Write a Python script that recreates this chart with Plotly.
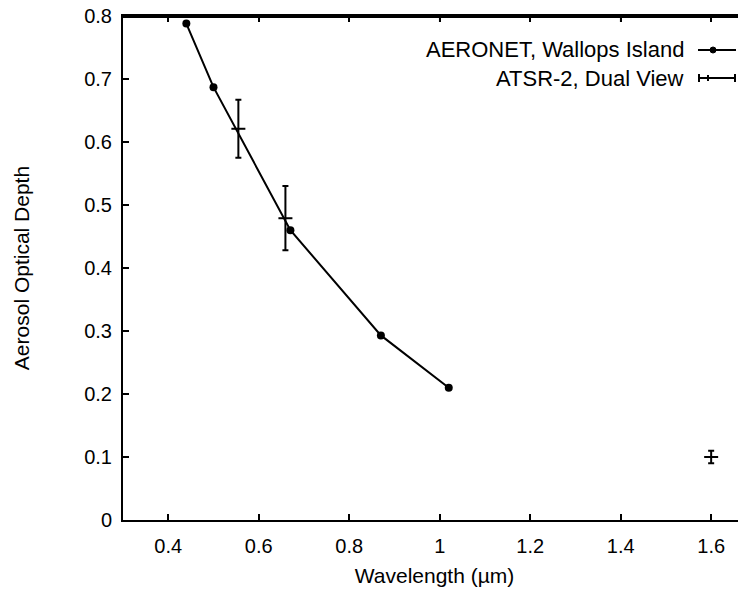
import plotly.graph_objects as go

# AERONET, Wallops Island
aeronet_wl = [0.44, 0.50, 0.67, 0.87, 1.02]
aeronet_aod = [0.788, 0.687, 0.460, 0.293, 0.210]

# ATSR-2, Dual View
atsr_wl = [0.555, 0.659, 1.60]
atsr_aod = [0.621, 0.479, 0.100]
atsr_err = [0.046, 0.051, 0.010]

x_ticks = [0.4, 0.6, 0.8, 1.0, 1.2, 1.4, 1.6]
x_ticklabels = ["0.4", "0.6", "0.8", "1", "1.2", "1.4", "1.6"]
y_ticks = [0, 0.1, 0.2, 0.3, 0.4, 0.5, 0.6, 0.7, 0.8]
y_ticklabels = ["0", "0.1", "0.2", "0.3", "0.4", "0.5", "0.6", "0.7", "0.8"]

FONT = "Liberation Sans, Arial, Helvetica, sans-serif"
X_RANGE = [0.3, 1.677]
Y_RANGE = [0, 0.8]

fig = go.Figure()
fig.add_trace(go.Scatter(
    x=aeronet_wl, y=aeronet_aod, mode="lines+markers",
    line=dict(color="black", width=2),
    marker=dict(color="black", size=8, symbol="circle"),
    showlegend=False,
))
fig.add_trace(go.Scatter(
    x=atsr_wl, y=atsr_aod, mode="markers",
    marker=dict(color="black", size=10, symbol="line-ew", line=dict(color="black", width=2)),
    error_y=dict(type="data", array=atsr_err, visible=True, color="black", thickness=2, width=3),
    showlegend=False,
))

# screen-space plot box (page body adds an 8px offset)
L, R, T, B = 123, 746, 16, 520
W, H = R - L, B - T
def px(x):
    return (x - L) / W
def py(y):
    return (B - y) / H

fig.add_annotation(x=px(686), y=py(50), xref="paper", yref="paper",
                   text="AERONET, Wallops Island", showarrow=False,
                   xanchor="right", yanchor="middle",
                   font=dict(family=FONT, size=22, color="black"))
fig.add_annotation(x=px(686), y=py(78), xref="paper", yref="paper",
                   text="ATSR-2, Dual View", showarrow=False,
                   xanchor="right", yanchor="middle",
                   font=dict(family=FONT, size=22, color="black"))
shapes = [
    # legend samples
    dict(type="line", xref="paper", yref="paper", x0=px(698), x1=px(736), y0=py(50), y1=py(50),
         line=dict(color="black", width=2)),
    dict(type="circle", xref="paper", yref="paper", x0=px(710), x1=px(716), y0=py(47), y1=py(53),
         fillcolor="black", line=dict(color="black", width=1)),
    dict(type="line", xref="paper", yref="paper", x0=px(699), x1=px(735), y0=py(78), y1=py(78),
         line=dict(color="black", width=2)),
    dict(type="line", xref="paper", yref="paper", x0=px(699), x1=px(699), y0=py(74), y1=py(82),
         line=dict(color="black", width=2)),
    dict(type="line", xref="paper", yref="paper", x0=px(735), x1=px(735), y0=py(74), y1=py(82),
         line=dict(color="black", width=2)),
    dict(type="line", xref="paper", yref="paper", x0=px(708), x1=px(708), y0=py(75), y1=py(81),
         line=dict(color="black", width=2)),
    # top frame line
    dict(type="line", xref="paper", yref="paper", x0=0, x1=1, y0=1 - 1 / H, y1=1 - 1 / H,
         line=dict(color="black", width=2), layer="above"),
]
# top-frame tick marks at the x tick values
for t in x_ticks:
    shapes.append(dict(type="line", xref="x", yref="paper", x0=t, x1=t, y0=1, y1=1 - 6 / H,
                       line=dict(color="black", width=1.5), layer="above"))
fig.update_layout(shapes=shapes)

axis_common = dict(
    ticks="inside", ticklen=6, tickwidth=1.5, tickcolor="black",
    showline=True, linecolor="black", linewidth=2,
    showgrid=False, zeroline=False, automargin=False,
)

fig.update_layout(
    width=738, height=582,
    margin=dict(l=L - 8, r=0, t=T - 8, b=590 - B),
    paper_bgcolor="white", plot_bgcolor="white",
    font=dict(family=FONT, size=20, color="black"),
    xaxis=dict(
        range=X_RANGE, tickvals=x_ticks, ticktext=x_ticklabels,
        mirror="ticks", ticklabelstandoff=7, ticklabeloverflow="allow",
        title=dict(text="Wavelength (µm)", font=dict(size=21), standoff=12),
        tickfont=dict(size=20), **axis_common,
    ),
    yaxis=dict(
        range=Y_RANGE, tickvals=y_ticks, ticktext=y_ticklabels,
        mirror=False, ticklabelstandoff=5, ticklabeloverflow="allow",
        title=dict(text="Aerosol Optical Depth", font=dict(size=21), standoff=49),
        tickfont=dict(size=20), **axis_common,
    ),
)

fig.write_html("out.html")
